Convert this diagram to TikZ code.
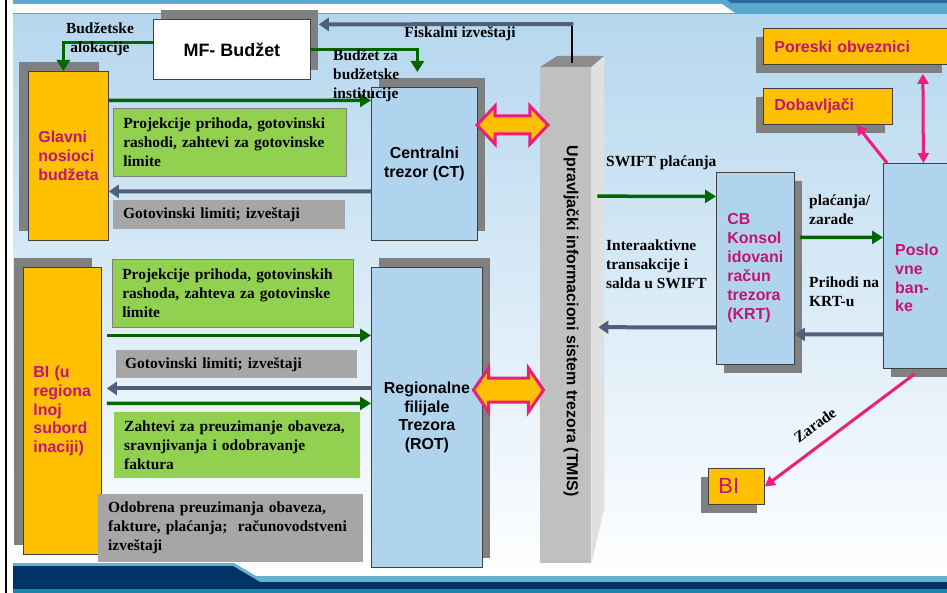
\documentclass[tikz,border=0pt]{standalone}
\usepackage{fontspec}
\setmainfont{Liberation Serif}
\setsansfont{Liberation Sans}
\usetikzlibrary{arrows.meta,shapes.arrows,shadows}

\definecolor{bgtop}{RGB}{181,215,238}
\definecolor{bgmid}{RGB}{212,232,246}
\definecolor{bandmid}{RGB}{90,168,205}
\definecolor{banddark}{RGB}{45,105,155}
\definecolor{bandlight}{RGB}{100,175,210}
\definecolor{navy}{RGB}{0,51,102}
\definecolor{bandteal}{RGB}{30,130,170}
\definecolor{boxblue}{RGB}{176,212,238}
\definecolor{boxorange}{RGB}{255,192,0}
\definecolor{boxmagenta}{RGB}{192,20,120}
\definecolor{notegreen}{RGB}{146,208,80}
\definecolor{notegray}{RGB}{166,166,166}
\definecolor{shadowgray}{RGB}{128,128,128}
\definecolor{flowgreen}{RGB}{0,102,0}
\definecolor{flowslate}{RGB}{80,96,120}
\definecolor{flowpink}{RGB}{236,30,121}
\definecolor{pillarfront}{RGB}{192,192,192}
\definecolor{pillartop}{RGB}{140,140,140}
\definecolor{pillarside}{RGB}{224,224,224}

\newcommand{\notefont}{\fontsize{15.5}{19}\selectfont\bfseries}
\newcommand{\unitfont}{\sffamily\bfseries\fontsize{16}{19}\selectfont}

\tikzset{
  unitbox/.style={anchor=north west, draw=black!75, line width=0.8bp, inner sep=0pt, font=\unitfont},
  bluebox/.style={unitbox, fill=boxblue, align=center},
  orangebox/.style={unitbox, fill=boxorange, text=boxmagenta, align=left},
  whitebox/.style={unitbox, fill=white, font=\sffamily\bfseries\fontsize{18}{21}\selectfont},
  notebox/.style={anchor=north west, font=\notefont, align=left, inner xsep=10bp, inner ysep=0pt},
  greennote/.style={notebox, fill=notegreen},
  graynote/.style={notebox, fill=notegray},
  flowlabel/.style={font=\notefont, inner sep=0pt},
  shadowul/.style={general shadow={fill=shadowgray, shadow xshift=-9bp, shadow yshift=9bp}},
  shadowur/.style={general shadow={fill=shadowgray, shadow xshift=8bp, shadow yshift=9bp}},
  shadowdr/.style={general shadow={fill=shadowgray, shadow xshift=8bp, shadow yshift=-9bp}},
  shadowdl/.style={general shadow={fill=shadowgray, shadow xshift=-7bp, shadow yshift=-9bp}},
  greenarr/.style={draw=flowgreen, line width=3.5bp, -{Triangle[length=11bp,width=13bp]}},
  slatearr/.style={draw=flowslate, line width=4bp, -{Triangle[length=10bp,width=13bp]}},
  pinkarr/.style={draw=flowpink, line width=3bp, -{Triangle[length=10bp,width=11bp]}},
  fatarrow/.style={double arrow, draw=flowpink, fill=boxorange, line width=3bp, inner xsep=0pt}
}

\begin{document}
\begin{tikzpicture}[x=1bp, y=-1bp]
   \useasboundingbox (0,0) rectangle (947,593);
   \clip (0,0) rectangle (947,593);
   % slide background
   \fill[white] (0,0) rectangle (947,593);
   \shade[top color=bgtop, middle color=bgmid, bottom color=white] (13,14) rectangle (947,578);
   \fill[bandmid] (13,0) rectangle (947,14);
   \fill[white] (13,4) -- (722,4) -- (735,13) -- (13,13) -- cycle;
   \fill[banddark] (727,0) -- (947,0) -- (947,3) -- (731,3) -- cycle;
   \fill[bandlight] (13,563) -- (234,563) -- (256,576) -- (947,576) -- (947,593) -- (13,593) -- cycle;
   \fill[navy] (13,566) -- (233,566) -- (260,582) -- (947,582) -- (947,589) -- (13,589) -- cycle;
   \fill[bandteal] (13,589) rectangle (947,593);
   \draw[black, line width=2bp] (6,0) -- (6,593);

   % TMIS pillar
   \node[anchor=north west, fill=pillarfront, minimum width=51bp, minimum height=496bp, inner sep=0pt] (tmis) at (540,67) {};
   \fill[pillartop] (tmis.north west) -- ++(17,-11) -- ++(47,0) -- (tmis.north east) -- cycle;
   \fill[pillarside] (tmis.north east) -- ++(13,-11) -- ++(0,452) -- (tmis.south east) -- cycle;
   \node[rotate=-90, font=\unitfont] (tmislbl) at ([xshift=5.5bp,yshift=-6bp]tmis.center) {Upravljački informacioni sistem trezora (TMIS)};

   % units
   \node[whitebox, shadowur, minimum width=157bp, minimum height=60bp] (mf) at (153,19) {MF- Budžet};
   \node[orangebox, shadowul, text width=60bp, inner xsep=10bp, minimum height=169bp] (glavni) at (28,71) {Glavni\\nosioci\\budžeta};
   \node[bluebox, shadowur, minimum width=106bp, minimum height=153bp] (ct) at (371,87) {Centralni\\trezor (CT)};
   \node[orangebox, shadowul, text width=58bp, inner xsep=10bp, minimum height=287bp] (bi) at (23,267) {BI (u\\regiona\\lnoj\\subord\\inaciji)};
   \node[bluebox, shadowur, minimum width=111bp, minimum height=300bp] (rot) at (371,267) {Regionalne\\filijale\\Trezora\\(ROT)};
   \node[bluebox, shadowdr, text=boxmagenta, align=left, text width=56bp, inner xsep=11bp, minimum height=192bp] (cb) at (716,172) {CB\\Konsol\\idovani\\račun\\trezora\\(KRT)};
   \node[bluebox, shadowdr, minimum width=80bp, minimum height=205bp] (banke) at (883,163) {};
   \node[font=\unitfont, text=boxmagenta, align=left, anchor=west, inner sep=0pt] (bankelbl) at ([xshift=12bp,yshift=-12bp]banke.west) {Poslo\\vne\\ban-\\ke};
   \node[orangebox, shadowdl, text width=164bp, inner xsep=11bp, minimum height=36bp] (poreski) at (763,28) {Poreski obveznici};
   \node[orangebox, shadowdl, text width=107bp, inner xsep=11bp, minimum height=36bp] (dobav) at (763,88) {Dobavljači};
   \node[orangebox, shadowdl, font=\sffamily\fontsize{22}{24}\selectfont, text width=36bp, inner xsep=10bp, minimum height=36bp] (bimali) at (708,468) {BI};

   % notes on the flows
   \node[greennote, draw=black!50, line width=0.6bp, text width=213bp, minimum height=68bp] (proj1) at (113,108) {Projekcije prihoda, gotovinski\\rashodi, zahtevi za gotovinske\\limite};
   \node[graynote, text width=212bp, minimum height=29bp] (lim1) at (113,200) {Gotovinski limiti; izveštaji};
   \node[greennote, draw=black!50, line width=0.6bp, text width=221bp, minimum height=68bp] (proj2) at (112,259) {Projekcije prihoda, gotovinskih\\rashoda, zahteva za gotovinske\\limite};
   \node[graynote, inner xsep=9bp, text width=223bp, minimum height=28bp] (lim2) at (116,350) {Gotovinski limiti; izveštaji};
   \node[greennote, text width=226bp, minimum height=66bp] (zaht) at (114,412) {Zahtevi za preuzimanje obaveza,\\sravnjivanja i odobravanje\\faktura};
   \node[graynote, text width=245bp, minimum height=68bp] (odob) at (98,494) {Odobrena preuzimanja obaveza,\\fakture, plaćanja;\ \ računovodstveni\\izveštaji};

   % budget and reports
   \draw[greenarr] ([yshift=7bp]mf.west) -| ([xshift=-5bp]glavni.north);
   \draw[greenarr, shorten >=15bp] (mf.east) -| ([xshift=-7bp]ct.north);
   \draw[black, line width=2.5bp] ([xshift=6.5bp,yshift=4bp]tmis.north) -- ++(0,-39) coordinate (fiskc);
   \draw[slatearr] ([xshift=1.25bp]fiskc) -- ([xshift=8bp,yshift=25bp]mf.east);
   \draw[greenarr] ([yshift=55.5bp]glavni.east) -- ([yshift=63.5bp]ct.west);
   \draw[slatearr] ([yshift=-27.5bp]ct.west) -- ([yshift=-35.5bp]glavni.east);
   \draw[greenarr] ([xshift=5bp,yshift=75.5bp]bi.east) -- ([yshift=82bp]rot.west);
   \draw[slatearr] ([yshift=29bp]rot.west) -- ([xshift=5bp,yshift=22.5bp]bi.east);
   \draw[greenarr] ([xshift=5bp,yshift=7.5bp]bi.east) -- ([yshift=14bp]rot.west);

   % payments
   \draw[greenarr] ([xshift=6bp,yshift=119bp]tmis.east) -- ([yshift=72bp]cb.west);
   \draw[slatearr] ([yshift=-59bp]cb.west) -- ([xshift=7bp,yshift=-12bp]tmis.east);
   \draw[greenarr] ([xshift=5bp,yshift=31bp]cb.east) -- ([yshift=28.5bp]banke.west);
   \draw[slatearr] ([yshift=-68.5bp]banke.west) -- ([yshift=-66bp]cb.east);
   \draw[pinkarr] ([xshift=4bp]banke.north west) -- ([xshift=28.5bp]dobav.south);
   \draw[pinkarr, {Triangle[length=10bp,width=11bp]}-{Triangle[length=10bp,width=11bp]}] ([xshift=66.5bp,yshift=-9bp]poreski.south) -- (banke.north);
   \draw[pinkarr] ([xshift=-8.5bp,yshift=-5bp]banke.south) -- (bimali.east)
      node[flowlabel, pos=0.59, sloped, above=12bp] {Zarade};

   % links to TMIS
   \foreach \n / \x / \y / \s / \a / \l in {ctlink/512.5/125/7.5/93/71, rotlink/508.5/390/10.5/111/70} {
      \node[fatarrow, inner ysep=\s bp, double arrow head extend=10bp, double arrow tip angle=\a, minimum height=\l bp] (\n) at (\x,\y) {};
   }

   % flow labels
   \node[flowlabel, align=center] (lalok) at (100,39) {Budžetske\\alokacije};
   \node[flowlabel] (lfisk) at (460,34) {Fiskalni izveštaji};
   \node[flowlabel, anchor=west, align=left] (lbudz) at (333,76) {Budžet za\\budžetske\\institucije};
   \node[flowlabel, anchor=west] (lswift) at (606,163) {SWIFT plaćanja};
   \node[flowlabel, anchor=west, align=left] (linter) at (606,264.5) {Interaaktivne\\transakcije i\\salda u SWIFT};
   \node[flowlabel, anchor=west, align=left] (lplac) at (809,210) {plaćanja/\\zarade};
   \node[flowlabel, anchor=west, align=left] (lprih) at (809,291.5) {Prihodi na\\KRT-u};
\end{tikzpicture}
\end{document}
